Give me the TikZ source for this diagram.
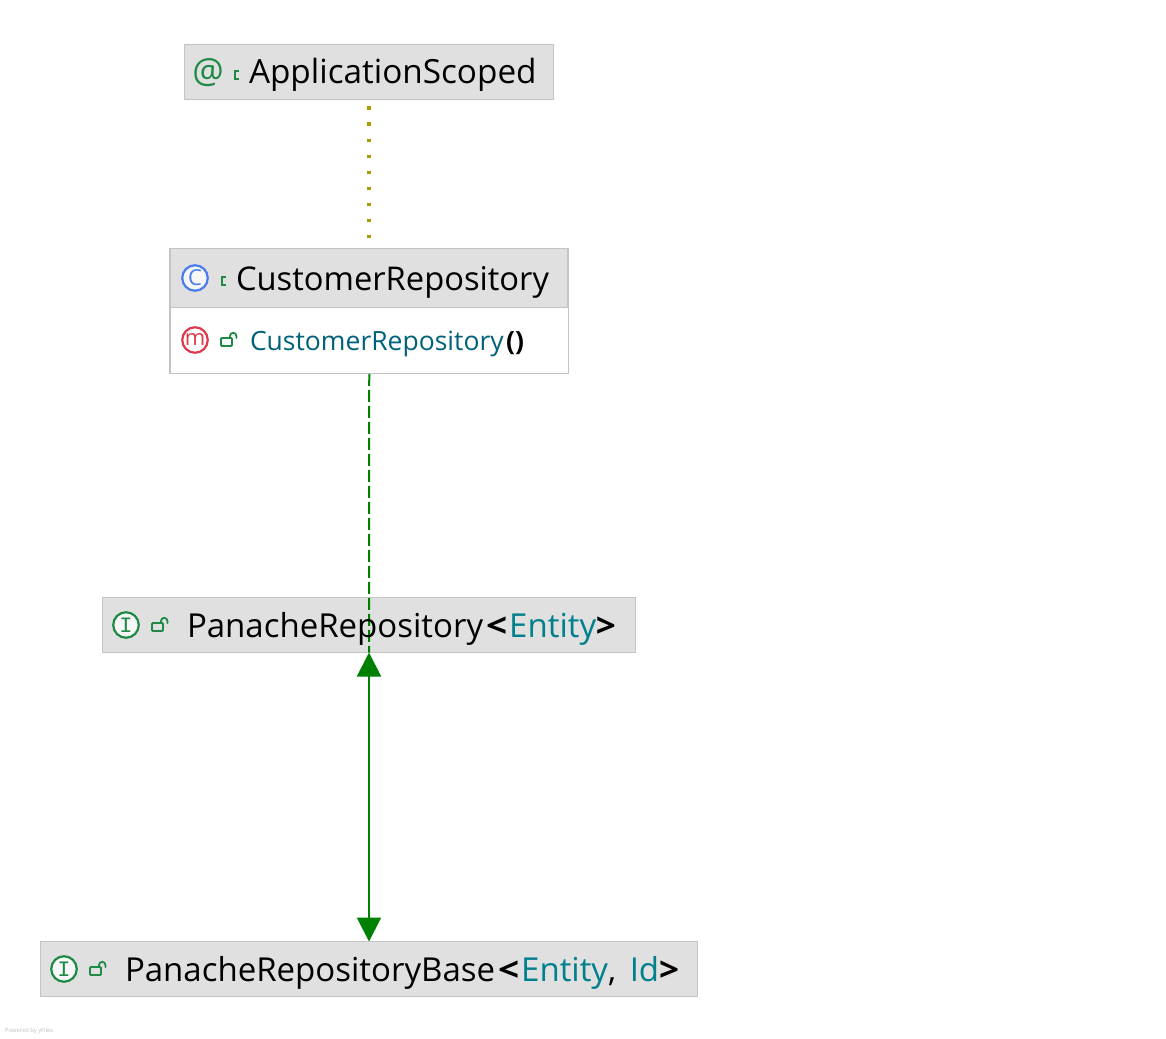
\documentclass[tikz,border=0pt]{standalone}
\usepackage{fontspec}
\setmainfont{Open Sans}
\newfontfamily\iconmono{Liberation Mono}
\usetikzlibrary{arrows.meta}
\definecolor{nodefill}{HTML}{E0E0E0}
\definecolor{nodeline}{HTML}{C4C4C4}
\definecolor{icongreen}{HTML}{1F8A45}
\definecolor{iconblue}{HTML}{4A7CF0}
\definecolor{iconred}{HTML}{DB3B4B}
\definecolor{typeteal}{HTML}{007F8C}
\definecolor{methodteal}{HTML}{00627A}
\definecolor{edgegreen}{HTML}{008000}
\definecolor{dotolive}{HTML}{A89C00}
\newcommand{\typesize}{\fontsize{33}{36}\selectfont}
\newcommand{\membersize}{\fontsize{26.5}{30}\selectfont}
\newcommand{\opensign}{\kern3pt\scalebox{1.12}[1]{\textbf{<}}\kern2pt}
\newcommand{\closesign}{\kern-0.2pt\scalebox{1.06}[1]{\textbf{>}}}
\tikzset{
  x=1pt,y=-1pt,
  boxnode/.style={draw=nodeline,line width=1.2pt,fill=nodefill,rectangle,inner sep=0pt,outer sep=0pt},
  bodynode/.style={draw=nodeline,line width=1.2pt,fill=white,rectangle,inner sep=0pt,outer sep=0pt},
  titletext/.style={anchor=base west,inner sep=0pt,outer sep=0pt,font=\typesize,text=black},
  membertext/.style={anchor=base west,inner sep=0pt,outer sep=0pt,font=\membersize},
  iconnode/.style={circle,draw=#1,line width=2.2pt,fill=white,fill opacity=.75,text opacity=1,minimum size=25.5pt,inner sep=0pt,text=#1,font=\fontsize{22}{22}\selectfont},
  atnode/.style={inner sep=0pt,text=icongreen,font=\fontsize{35}{35}\selectfont},
  lockpart/.style={draw=icongreen,line width=1.8pt,line cap=round},
  realization/.style={draw=edgegreen,line width=2pt,dash pattern=on 12pt off 4pt},
  inheritance/.style={draw=edgegreen,line width=2pt,{Triangle[length=24pt,width=24pt]}-{Triangle[length=24pt,width=24pt]}},
  annotationlink/.style={draw=dotolive,line width=3.6pt,dash pattern=on 3.6pt off 12.4pt},
  openlock/.pic={
    \draw[lockpart,rounded corners=1pt] (-8,-2) rectangle (3,6);
    \draw[lockpart] (1,-2) -- (1,-4) arc[start angle=180,end angle=360,radius=3.2] -- (7.4,-2);
  },
  pkgmark/.pic={
    \draw[lockpart,line cap=butt] (4,-4) -- (0,-4) -- (0,4) -- (4,4);
  }
}
\begin{document}
\begin{tikzpicture}
\useasboundingbox (0,0) rectangle (1166,1038);

% boxes
\node[boxnode,minimum width=369pt,minimum height=55pt] (appl) at (369,72) {};
\node[bodynode,minimum width=398.5pt,minimum height=125pt] (crbody) at (369.25,311.25) {};
\node[boxnode,minimum width=397.5pt,minimum height=58.5pt] (crhead) at (368.75,278) {};
\node[boxnode,minimum width=533pt,minimum height=55pt] (pr) at (369,625) {};
\node[boxnode,minimum width=657pt,minimum height=55pt] (prb) at (369,969) {};

% connectors
\coordinate (dottop) at (369,106.5);
\coordinate (dotbot) at (369,240);
\draw[annotationlink] (dottop) -- (dotbot);
\draw[realization] (crbody.south) -- (pr.south);
\draw[inheritance] (pr.south) -- (prb.north);

% icons
\node[atnode] (iappl) at (208,72.5) {@};
\node[iconnode=iconblue] (icr) at (195,278) {C};
\node[iconnode=iconred] (im) at (195,340) {m};
\node[iconnode=icongreen] (ipr) at (126,625) {\iconmono I};
\node[iconnode=icongreen] (iprb) at (64,969) {\iconmono I};

% visibility marks
\pic at (235,75) {pkgmark};
\pic at (222,281) {pkgmark};
\pic at (229,340) {openlock};
\pic at (160,625) {openlock};
\pic at (98,969) {openlock};

% labels
\node[titletext,font=\fontsize{33.3}{36}\selectfont] (tappl) at (249,84) {ApplicationScoped};
\node[titletext,font=\fontsize{32.7}{36}\selectfont] (tcr) at (236,290) {CustomerRepository};
\node[membertext] (tm) at (250,350.5) {\textcolor{methodteal}{CustomerRepository}\kern2.5pt\textbf{()}};
\node[titletext] (tpr) at (187,637) {PanacheRepository\opensign\textcolor{typeteal}{Entity}\closesign};
\node[titletext] (tprb) at (125,981) {PanacheRepositoryBase\opensign\textcolor{typeteal}{Entity},\kern5pt\ \textcolor{typeteal}{Id}\closesign};
\node[anchor=base west,inner sep=0pt,text=black!25,font=\fontsize{5.8}{6}\selectfont] (yf) at (5,1032) {Powered by yFiles};
\end{tikzpicture}
\end{document}
